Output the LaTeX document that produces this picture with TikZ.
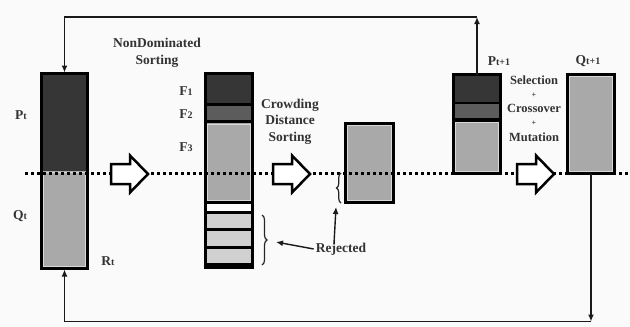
\documentclass[tikz,border=0pt]{standalone}
\usepackage{fontspec}
\setmainfont{Liberation Serif}
\usetikzlibrary{decorations.pathreplacing,arrows.meta,fit}

\definecolor{ink}{HTML}{333333}
\definecolor{paper}{HTML}{FAFAFA}
\definecolor{bandDark}{HTML}{363636}
\definecolor{bandMid}{HTML}{5C5C5C}
\definecolor{bandLight}{HTML}{A9A9A9}
\definecolor{bandPale}{HTML}{D0D0D0}
\definecolor{rim}{HTML}{D9D9D9}

% smaller trailing part of a label such as P_t, F_1
\newcommand\lowpart[1]{{\fontsize{10}{10}\selectfont #1}}

\tikzset{
  popbox/.style={draw=black, line width=3pt, inner sep=0pt, outer sep=0pt},
  sep/.style={line width=3pt, draw=black},
  rimline/.style={draw=rim, line width=0.8pt},
  lbl/.style={font=\bfseries\fontsize{13.5}{17}\selectfont, text=ink, inner sep=0pt, align=center},
  oplbl/.style={font=\bfseries\fontsize{12.5}{14}\selectfont, text=ink, inner sep=0pt},
  pluslbl/.style={font=\bfseries\fontsize{8}{8}\selectfont, text=ink, inner sep=0pt},
  conn/.style={draw=black!90, line width=1.4pt},
  tip/.style={-{Latex[length=7pt,width=6pt]}},
  dotline/.style={draw=black, line width=3.5pt, dash pattern=on 3.4pt off 2.6pt},
  blockarrow/.style={draw=black, line width=2.5pt, fill=white, line join=miter},
  bracel/.style={draw=black!85, line width=1.2pt, decorate}
}

\begin{document}
\begin{tikzpicture}[x=1pt,y=-1pt]
\useasboundingbox (0,0) rectangle (630,327);
\fill[paper] (0,0) rectangle (630,327);

% ---- R_t = P_t + Q_t
\fill[bandDark] (41.5,73.5) rectangle (87.5,171);
\fill[bandLight] (41.5,171) rectangle (87.5,268.5);
\draw[rimline] (43.5,172) rectangle (85.5,266.5);
\node[popbox, fit={(41.5,73.5) (87.5,268.5)}] (rt) {};

% ---- fronts after non-dominated sorting
\fill[bandDark] (205.5,73.5) rectangle (252.5,104.5);
\fill[bandMid] (205.5,104.5) rectangle (252.5,122);
\fill[bandLight] (205.5,122) rectangle (252.5,202);
\draw[rimline] (207.5,124) rectangle (250.5,200.5);
\fill[white] (205.5,202) rectangle (252.5,212.5);
\fill[bandPale] (205.5,212.5) rectangle (252.5,265);
\draw[sep] (205.5,104.5) -- (252.5,104.5);
\draw[sep, line width=3.5pt] (205.5,121.5) -- (252.5,121.5);
\draw[sep] (205.5,202) -- (252.5,202);
\draw[sep] (205.5,212.5) -- (252.5,212.5);
\draw[sep] (205.5,229.5) -- (252.5,229.5);
\draw[sep] (205.5,247.5) -- (252.5,247.5);
\fill[black] (204,263) rectangle (254,269);
\node[popbox, fit={(205.5,73.5) (252.5,267.5)}] (fronts) {};

% ---- after crowding distance sorting
\fill[bandLight] (345.5,123.5) rectangle (393.5,202.5);
\draw[rimline] (347.5,125.5) rectangle (391.5,200.5);
\node[popbox, fit={(345.5,123.5) (393.5,202.5)}] (cds) {};

% ---- P_{t+1}
\fill[bandDark] (453.5,74.5) rectangle (500.5,103);
\fill[bandMid] (453.5,103) rectangle (500.5,119.5);
\fill[bandLight] (453.5,119.5) rectangle (500.5,173.5);
\draw[rimline] (455.5,122) rectangle (498.5,171.5);
\draw[sep, line width=2.5pt] (453.5,103) -- (500.5,103);
\draw[sep, line width=4pt] (453.5,119.5) -- (500.5,119.5);
\node[popbox, fit={(453.5,74.5) (500.5,173.5)}] (pnext) {};

% ---- Q_{t+1}
\fill[bandLight] (567.5,74.5) rectangle (614.5,173.5);
\draw[rimline] (569.5,76.5) rectangle (612.5,171.5);
\node[popbox, fit={(567.5,74.5) (614.5,173.5)}] (qnext) {};

% ---- dotted cut line, then the block arrows over it
\draw[dotline] (25,173.5) -- (630,173.5);
\foreach \x in {111,273,517}{
  \draw[blockarrow, shift={(\x,174)}]
    (0,-10) -- (19,-10) -- (19,-18.5) -- (37,0) -- (19,18.5) -- (19,10) -- (0,10) -- cycle;
}

% ---- feedback loops
\coordinate (loopTop) at (0,17);
\coordinate (loopBot) at (0,321.5);
\draw[conn, tip] (pnext.north) -- (pnext.north |- loopTop);
\draw[conn, tip, shorten >=1pt] (pnext.north |- loopTop) -| (rt.north);
\draw[conn, tip] (qnext.south) -- (qnext.south |- loopBot);
\draw[conn, tip, shorten >=1pt] (qnext.south |- loopBot) -| (rt.south);

% ---- rejected members
\draw[bracel, decoration={brace, amplitude=5pt}] (262,215) -- (262,265);
\draw[bracel, decoration={brace, amplitude=4.5pt}] (341,203) -- (341,173);
\coordinate (bigTip) at (276,242);
\coordinate (smallTip) at (336,207);
\node[lbl] (rej) at (341,249) {Rejected};
\draw[conn, tip] ([xshift=-2pt]rej.west) -- (bigTip);
\draw[conn, tip] ([xshift=-7pt,yshift=-1pt]rej.north) -- (smallTip);

% ---- labels
\node[lbl] (nds) at (157,53) {NonDominated\\Sorting};
\node[lbl] (crowd) at (290,121.5) {Crowding\\[-0.5pt]Distance\\[-0.5pt]Sorting};
\node[lbl] (pt) at (21,115) {P\lowpart{t}};
\node[lbl] (qt) at (20,216) {Q\lowpart{t}};
\node[lbl] (rtl) at (108,261) {R\lowpart{t}};
\node[lbl] (f1) at (186,91) {F\lowpart{1}};
\node[lbl] (f2) at (186,114) {F\lowpart{2}};
\node[lbl] (f3) at (186,147) {F\lowpart{3}};
\node[lbl] (ptn) at (499,61) {P\lowpart{t+1}};
\node[lbl] (qtn) at (588,61) {Q\lowpart{t+1}};
\node[oplbl] (sel) at (534,80) {Selection};
\node[pluslbl] (plusa) at (534,95) {+};
\node[oplbl] (cro) at (534,108.5) {Crossover};
\node[pluslbl] (plusb) at (534,123) {+};
\node[oplbl] (mut) at (534,137) {Mutation};
\end{tikzpicture}
\end{document}
